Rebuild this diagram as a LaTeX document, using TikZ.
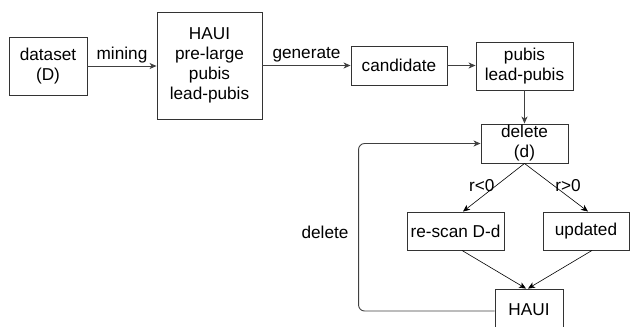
\documentclass[tikz,border=0pt]{standalone}
\usepackage{fontspec}
\setmainfont{Liberation Sans}
\usetikzlibrary{arrows.meta}
\begin{document}
\begin{tikzpicture}[x=1pt,y=-1pt,
  box/.style={draw=black!80, line width=0.9pt, inner sep=0pt, align=center, font=\fontsize{17.2}{20}\selectfont},
  arr/.style={draw=black!75, line width=0.9pt, -{Stealth[length=7pt,width=6pt,inset=2pt]}},
  thin/.style={draw=black, line width=0.6pt},
  thinarr/.style={thin, -{Stealth[length=7pt,width=6pt,inset=2pt]}},
  lbl/.style={font=\fontsize{17.2}{20}\selectfont, inner sep=0pt}]
\useasboundingbox (0,0) rectangle (630,327);
\clip (0,0) rectangle (630,327);
\node[box, minimum width=78pt, minimum height=58pt] (ds) at (48,66) {dataset\\(D)};
\node[box, minimum width=105pt, minimum height=107pt] (h1) at (209.5,65.5) {HAUI\\pre-large\\pubis\\lead-pubis};
\node[box, minimum width=96pt, minimum height=39pt] (cand) at (399,65.5) {candidate};
\node[box, minimum width=97pt, minimum height=48pt] (pub) at (524.5,66) {pubis\\lead-pubis};
\node[box, minimum width=87pt, minimum height=39pt] (del) at (524.5,143.5) {delete\\(d)};
\node[box, minimum width=97pt, minimum height=38pt] (rs) at (455.5,231) {re-scan D-d};
\node[box, minimum width=86pt, minimum height=38pt] (up) at (586,231) {updated};
\node[box, minimum width=68pt, minimum height=42pt] (h2) at (529,310) {HAUI};

\draw[arr] (ds.east) -- (ds.east -| h1.west) node[lbl, midway, above=2.5pt] {mining};
\draw[arr] (h1.east |- cand.west) -- (cand.west) node[lbl, midway, above=2.5pt] {generate};
\draw[arr] (cand.east) -- (cand.east -| pub.west);
\draw[arr] (pub.south) -- (del.north);
\draw[thinarr] (del.south) -- ([xshift=7.5pt]rs.north) node[lbl, pos=0.45, left=2pt] {r<0};
\draw[thinarr] (del.south) -- ([xshift=2pt]up.north) node[lbl, pos=0.45, right=2pt] {r>0};
\draw[thinarr] ([xshift=6.5pt]rs.south) -- ([xshift=-3pt]h2.north);
\draw[thinarr] ([xshift=6pt]up.south) -- ([xshift=-1pt]h2.north);
\draw[arr, rounded corners=6pt] ([yshift=-1pt]h2.west) -- ++(-136,0) |- (del.west);
\node[lbl] (dl) at (325,232) {delete};
\end{tikzpicture}
\end{document}
